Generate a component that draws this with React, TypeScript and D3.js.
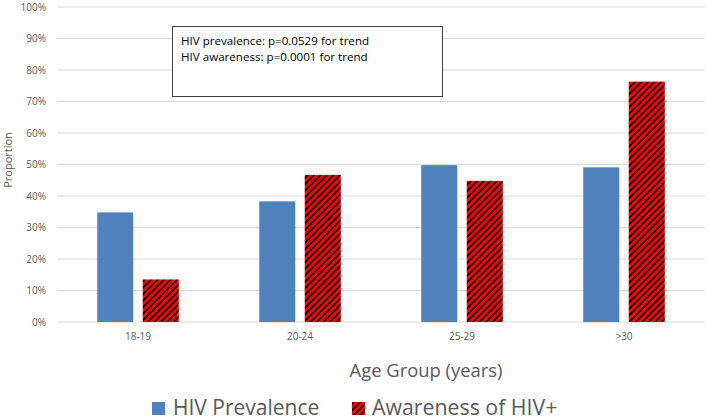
import React from "react";
import * as d3 from "d3";

const categories = ["18-19", "20-24", "25-29", ">30"];
const prevalence = [0.348, 0.383, 0.498, 0.491];
const awareness = [0.135, 0.467, 0.448, 0.763];
const yTicks = [0, 0.1, 0.2, 0.3, 0.4, 0.5, 0.6, 0.7, 0.8, 0.9, 1.0];
const annotation = ["HIV prevalence: p=0.0529 for trend", "HIV awareness: p=0.0001 for trend"];
const seriesNames = ["HIV Prevalence", "Awareness of HIV+"];

const W = 709, H = 420;
const FONT = "'Open Sans', 'Liberation Sans', sans-serif";

export default function App() {
  const left = 57, right = 705, top = 7, bottom = 322;
  const x = d3.scaleBand<string>().domain(categories).range([left, right]).paddingInner(0).paddingOuter(0);
  const y = d3.scaleLinear().domain([0, 1]).range([bottom, top]);
  const barW = 36, gap = 9.5;
  const fmt = d3.format(".0%");
  return (
    <svg width={W} height={H} style={{ position: "absolute", left: 0, top: 0, background: "#fff" }}>
      <defs>
        <pattern id="hatch" width="4.6" height="4.6" patternUnits="userSpaceOnUse" patternTransform="rotate(45)">
          <rect x="0" y="0" width="4.6" height="4.6" fill="#ff0000" />
          <rect x="0" y="0" width="1.7" height="4.6" fill="#000" />
        </pattern>
      </defs>
      {yTicks.map((t) => (
        <g key={t}>
          <line x1={left} x2={right} y1={y(t)} y2={y(t)} stroke="#d9d9d9" strokeWidth={1} />
          <text x={46} y={y(t) + 3.5} textAnchor="end" fontSize={10} fill="#595959" fontFamily={FONT}>{fmt(t)}</text>
        </g>
      ))}
      {categories.map((c, i) => {
        const cx = x(c)! + x.bandwidth() / 2;
        return (
          <g key={c}>
            <rect x={cx - gap / 2 - barW} y={y(prevalence[i])} width={barW} height={bottom - y(prevalence[i])} fill="#4f81bd" />
            <rect x={cx + gap / 2} y={y(awareness[i])} width={barW} height={bottom - y(awareness[i])} fill="url(#hatch)" />
            <text x={cx} y={340} textAnchor="middle" fontSize={10} fill="#595959" fontFamily={FONT}>{c}</text>
          </g>
        );
      })}
      <text transform="translate(12,160) rotate(-90)" textAnchor="middle" fontSize={11} fill="#595959" fontFamily={FONT}>Proportion</text>
      <text x={426} y={377} textAnchor="middle" fontSize={18.4} fill="#595959" fontFamily={FONT}>Age Group (years)</text>
      <rect x={172.5} y={26.5} width={270} height={70} fill="#fff" stroke="#404040" strokeWidth={1} />
      {annotation.map((a, i) => (
        <text key={a} x={181} y={44.5 + i * 16} fontSize={11.6} fill="#000" fontFamily={FONT}>{a}</text>
      ))}
      <rect x={152} y={402} width={13} height={13} fill="#4f81bd" />
      <text x={173} y={415} fontSize={21} fill="#595959" fontFamily={FONT}>{seriesNames[0]}</text>
      <rect x={352} y={402} width={13} height={13} fill="url(#hatch)" />
      <text x={372} y={415} fontSize={21.3} fill="#595959" fontFamily={FONT}>{seriesNames[1]}</text>
    </svg>
  );
}
